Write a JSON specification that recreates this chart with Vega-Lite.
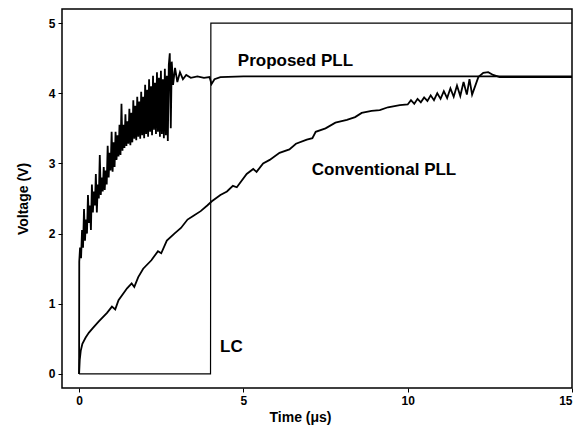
{
  "$schema": "https://vega.github.io/schema/vega-lite/v6.json",
  "autosize": {"type": "none"},
  "padding": {"left": 62, "top": 9, "right": 16, "bottom": 44},
  "width": 510,
  "height": 379,
  "background": "white",
  "config": {
    "font": "Liberation Sans",
    "view": {"stroke": "black", "strokeWidth": 1.5},
    "axis": {"grid": false, "domain": false, "tickColor": "black", "tickSize": 4, "labelFont": "Liberation Sans", "labelFontWeight": "bold", "labelFontSize": 12, "labelColor": "black", "titleFont": "Liberation Sans", "titleFontWeight": "bold", "titleFontSize": 14, "titleColor": "black"}
  },
  "datasets": {
    "lines": [
      {"s": "LC", "t": 0, "v": 0}, {"s": "LC", "t": 4.0, "v": 0}, {"s": "LC", "t": 4.01, "v": 5}, {"s": "LC", "t": 15, "v": 5},

      {"s": "P", "t": 0, "v": 0}, {"s": "P", "t": 0.005, "v": 1.6}, {"s": "P", "t": 0.03, "v": 1.8}, {"s": "P", "t": 0.06, "v": 1.65},
      {"s": "P", "t": 0.09, "v": 2.05}, {"s": "P", "t": 0.12, "v": 1.8}, {"s": "P", "t": 0.15, "v": 2.35}, {"s": "P", "t": 0.18, "v": 1.9},
      {"s": "P", "t": 0.21, "v": 2.2}, {"s": "P", "t": 0.24, "v": 2.0}, {"s": "P", "t": 0.27, "v": 2.55}, {"s": "P", "t": 0.30, "v": 2.15},
      {"s": "P", "t": 0.33, "v": 2.4}, {"s": "P", "t": 0.36, "v": 2.05}, {"s": "P", "t": 0.39, "v": 2.7}, {"s": "P", "t": 0.42, "v": 2.3},
      {"s": "P", "t": 0.45, "v": 2.6}, {"s": "P", "t": 0.48, "v": 2.4}, {"s": "P", "t": 0.51, "v": 2.85}, {"s": "P", "t": 0.54, "v": 2.3},
      {"s": "P", "t": 0.57, "v": 2.7}, {"s": "P", "t": 0.60, "v": 2.5}, {"s": "P", "t": 0.63, "v": 3.12}, {"s": "P", "t": 0.66, "v": 2.55},
      {"s": "P", "t": 0.69, "v": 2.8}, {"s": "P", "t": 0.72, "v": 2.6}, {"s": "P", "t": 0.75, "v": 2.95}, {"s": "P", "t": 0.78, "v": 2.62},
      {"s": "P", "t": 0.81, "v": 2.9}, {"s": "P", "t": 0.84, "v": 2.7}, {"s": "P", "t": 0.87, "v": 3.25}, {"s": "P", "t": 0.90, "v": 2.8},
      {"s": "P", "t": 0.93, "v": 3.15}, {"s": "P", "t": 0.96, "v": 2.9}, {"s": "P", "t": 0.99, "v": 3.45}, {"s": "P", "t": 1.02, "v": 2.88},
      {"s": "P", "t": 1.05, "v": 3.3}, {"s": "P", "t": 1.08, "v": 2.95}, {"s": "P", "t": 1.11, "v": 3.45}, {"s": "P", "t": 1.14, "v": 3.05},
      {"s": "P", "t": 1.17, "v": 3.4}, {"s": "P", "t": 1.20, "v": 3.1}, {"s": "P", "t": 1.23, "v": 3.55}, {"s": "P", "t": 1.26, "v": 3.12},
      {"s": "P", "t": 1.29, "v": 3.85}, {"s": "P", "t": 1.32, "v": 3.18}, {"s": "P", "t": 1.35, "v": 3.55}, {"s": "P", "t": 1.38, "v": 3.22},
      {"s": "P", "t": 1.41, "v": 3.7}, {"s": "P", "t": 1.44, "v": 3.25}, {"s": "P", "t": 1.47, "v": 3.6}, {"s": "P", "t": 1.50, "v": 3.28},
      {"s": "P", "t": 1.53, "v": 3.78}, {"s": "P", "t": 1.56, "v": 3.26}, {"s": "P", "t": 1.59, "v": 3.72}, {"s": "P", "t": 1.62, "v": 3.3},
      {"s": "P", "t": 1.65, "v": 3.9}, {"s": "P", "t": 1.68, "v": 3.35}, {"s": "P", "t": 1.71, "v": 3.82}, {"s": "P", "t": 1.74, "v": 3.33},
      {"s": "P", "t": 1.77, "v": 3.95}, {"s": "P", "t": 1.80, "v": 3.38}, {"s": "P", "t": 1.83, "v": 3.88}, {"s": "P", "t": 1.86, "v": 3.35},
      {"s": "P", "t": 1.89, "v": 4.02}, {"s": "P", "t": 1.92, "v": 3.4}, {"s": "P", "t": 1.95, "v": 3.95}, {"s": "P", "t": 1.98, "v": 3.36},
      {"s": "P", "t": 2.01, "v": 4.12}, {"s": "P", "t": 2.04, "v": 3.42}, {"s": "P", "t": 2.07, "v": 4.05}, {"s": "P", "t": 2.10, "v": 3.38},
      {"s": "P", "t": 2.13, "v": 4.2}, {"s": "P", "t": 2.16, "v": 3.45}, {"s": "P", "t": 2.19, "v": 4.1}, {"s": "P", "t": 2.22, "v": 3.4},
      {"s": "P", "t": 2.25, "v": 4.25}, {"s": "P", "t": 2.28, "v": 3.48}, {"s": "P", "t": 2.31, "v": 4.15}, {"s": "P", "t": 2.34, "v": 3.42},
      {"s": "P", "t": 2.37, "v": 4.3}, {"s": "P", "t": 2.40, "v": 3.45}, {"s": "P", "t": 2.43, "v": 4.22}, {"s": "P", "t": 2.46, "v": 3.38},
      {"s": "P", "t": 2.49, "v": 4.32}, {"s": "P", "t": 2.52, "v": 3.42}, {"s": "P", "t": 2.55, "v": 4.2}, {"s": "P", "t": 2.58, "v": 3.36},
      {"s": "P", "t": 2.61, "v": 4.35}, {"s": "P", "t": 2.64, "v": 3.4}, {"s": "P", "t": 2.67, "v": 4.25}, {"s": "P", "t": 2.70, "v": 3.32},
      {"s": "P", "t": 2.73, "v": 4.4}, {"s": "P", "t": 2.76, "v": 4.57}, {"s": "P", "t": 2.79, "v": 3.5}, {"s": "P", "t": 2.82, "v": 4.45},
      {"s": "P", "t": 2.86, "v": 4.12}, {"s": "P", "t": 2.92, "v": 4.36}, {"s": "P", "t": 2.99, "v": 4.16}, {"s": "P", "t": 3.07, "v": 4.3},
      {"s": "P", "t": 3.16, "v": 4.2}, {"s": "P", "t": 3.26, "v": 4.26}, {"s": "P", "t": 3.4, "v": 4.22}, {"s": "P", "t": 3.6, "v": 4.24},
      {"s": "P", "t": 3.8, "v": 4.22}, {"s": "P", "t": 3.97, "v": 4.23}, {"s": "P", "t": 4.03, "v": 4.13}, {"s": "P", "t": 4.12, "v": 4.2},
      {"s": "P", "t": 4.3, "v": 4.23}, {"s": "P", "t": 5, "v": 4.24}, {"s": "P", "t": 15, "v": 4.24},

      {"s": "C", "t": 0, "v": 0}, {"s": "C", "t": 0.02, "v": 0.2}, {"s": "C", "t": 0.05, "v": 0.33}, {"s": "C", "t": 0.1, "v": 0.43},
      {"s": "C", "t": 0.2, "v": 0.52}, {"s": "C", "t": 0.3, "v": 0.59}, {"s": "C", "t": 0.43, "v": 0.66}, {"s": "C", "t": 0.6, "v": 0.75},
      {"s": "C", "t": 0.85, "v": 0.87}, {"s": "C", "t": 1.0, "v": 0.96}, {"s": "C", "t": 1.1, "v": 0.92}, {"s": "C", "t": 1.2, "v": 1.05},
      {"s": "C", "t": 1.46, "v": 1.22}, {"s": "C", "t": 1.6, "v": 1.29}, {"s": "C", "t": 1.68, "v": 1.24}, {"s": "C", "t": 1.8, "v": 1.38},
      {"s": "C", "t": 1.95, "v": 1.5}, {"s": "C", "t": 2.2, "v": 1.62}, {"s": "C", "t": 2.4, "v": 1.75}, {"s": "C", "t": 2.5, "v": 1.72},
      {"s": "C", "t": 2.67, "v": 1.9}, {"s": "C", "t": 2.9, "v": 2.0}, {"s": "C", "t": 3.1, "v": 2.08}, {"s": "C", "t": 3.3, "v": 2.2},
      {"s": "C", "t": 3.47, "v": 2.25}, {"s": "C", "t": 3.7, "v": 2.32}, {"s": "C", "t": 3.9, "v": 2.4}, {"s": "C", "t": 4.04, "v": 2.46},
      {"s": "C", "t": 4.3, "v": 2.55}, {"s": "C", "t": 4.5, "v": 2.6}, {"s": "C", "t": 4.68, "v": 2.68}, {"s": "C", "t": 4.8, "v": 2.66},
      {"s": "C", "t": 5.1, "v": 2.85}, {"s": "C", "t": 5.3, "v": 2.92}, {"s": "C", "t": 5.4, "v": 2.88}, {"s": "C", "t": 5.6, "v": 3.0},
      {"s": "C", "t": 5.8, "v": 3.05}, {"s": "C", "t": 6.1, "v": 3.15}, {"s": "C", "t": 6.4, "v": 3.2}, {"s": "C", "t": 6.6, "v": 3.28},
      {"s": "C", "t": 6.93, "v": 3.34}, {"s": "C", "t": 7.1, "v": 3.36}, {"s": "C", "t": 7.2, "v": 3.45}, {"s": "C", "t": 7.5, "v": 3.5},
      {"s": "C", "t": 7.8, "v": 3.58}, {"s": "C", "t": 8.15, "v": 3.62}, {"s": "C", "t": 8.4, "v": 3.66}, {"s": "C", "t": 8.6, "v": 3.72},
      {"s": "C", "t": 8.9, "v": 3.75}, {"s": "C", "t": 9.15, "v": 3.76}, {"s": "C", "t": 9.4, "v": 3.8}, {"s": "C", "t": 9.76, "v": 3.83},
      {"s": "C", "t": 10.0, "v": 3.84}, {"s": "C", "t": 10.1, "v": 3.9}, {"s": "C", "t": 10.2, "v": 3.85}, {"s": "C", "t": 10.3, "v": 3.92},
      {"s": "C", "t": 10.4, "v": 3.87}, {"s": "C", "t": 10.5, "v": 3.94}, {"s": "C", "t": 10.6, "v": 3.89}, {"s": "C", "t": 10.7, "v": 3.97},
      {"s": "C", "t": 10.8, "v": 3.9}, {"s": "C", "t": 10.9, "v": 4.0}, {"s": "C", "t": 11.0, "v": 3.92}, {"s": "C", "t": 11.1, "v": 4.03},
      {"s": "C", "t": 11.2, "v": 3.93}, {"s": "C", "t": 11.3, "v": 4.07}, {"s": "C", "t": 11.4, "v": 3.95}, {"s": "C", "t": 11.5, "v": 4.11},
      {"s": "C", "t": 11.6, "v": 3.96}, {"s": "C", "t": 11.7, "v": 4.16}, {"s": "C", "t": 11.8, "v": 3.98}, {"s": "C", "t": 11.88, "v": 4.2},
      {"s": "C", "t": 11.96, "v": 3.98}, {"s": "C", "t": 12.15, "v": 4.23}, {"s": "C", "t": 12.3, "v": 4.29}, {"s": "C", "t": 12.45, "v": 4.3},
      {"s": "C", "t": 12.6, "v": 4.26}, {"s": "C", "t": 12.8, "v": 4.23}, {"s": "C", "t": 15, "v": 4.23}
    ],
    "labels": [
      {"t": 4.83, "v": 4.46, "label": "Proposed PLL"},
      {"t": 7.08, "v": 2.91, "label": "Conventional PLL"},
      {"t": 4.29, "v": 0.38, "label": "LC"}
    ]
  },
  "encoding": {
    "x": {"field": "t", "type": "quantitative", "scale": {"domain": [-0.52, 15], "nice": false, "zero": false},
      "axis": {"values": [0, 5, 10, 15], "title": "Time (μs)", "titleX": 238, "titlePadding": 4, "labelPadding": 3}},
    "y": {"field": "v", "type": "quantitative", "scale": {"domain": [-0.2, 5.2], "nice": false, "zero": false},
      "axis": {"values": [0, 1, 2, 3, 4, 5], "title": "Voltage (V)", "titlePadding": 18, "labelPadding": 3}}
  },
  "layer": [
    {
      "data": {"name": "lines"},
      "transform": [{"filter": "datum.s === 'LC'"}],
      "mark": {"type": "line", "color": "black", "strokeWidth": 1.2, "interpolate": "linear"},
      "encoding": {"detail": {"field": "s"}}
    },
    {
      "data": {"name": "lines"},
      "transform": [{"filter": "datum.s !== 'LC'"}],
      "mark": {"type": "line", "color": "black", "strokeWidth": 1.8, "interpolate": "linear"},
      "encoding": {"detail": {"field": "s"}}
    },
    {
      "data": {"name": "labels"},
      "mark": {"type": "text", "align": "left", "baseline": "middle", "font": "Liberation Sans", "fontWeight": "bold", "fontSize": 17, "color": "black"},
      "encoding": {"text": {"field": "label"}}
    }
  ]
}
